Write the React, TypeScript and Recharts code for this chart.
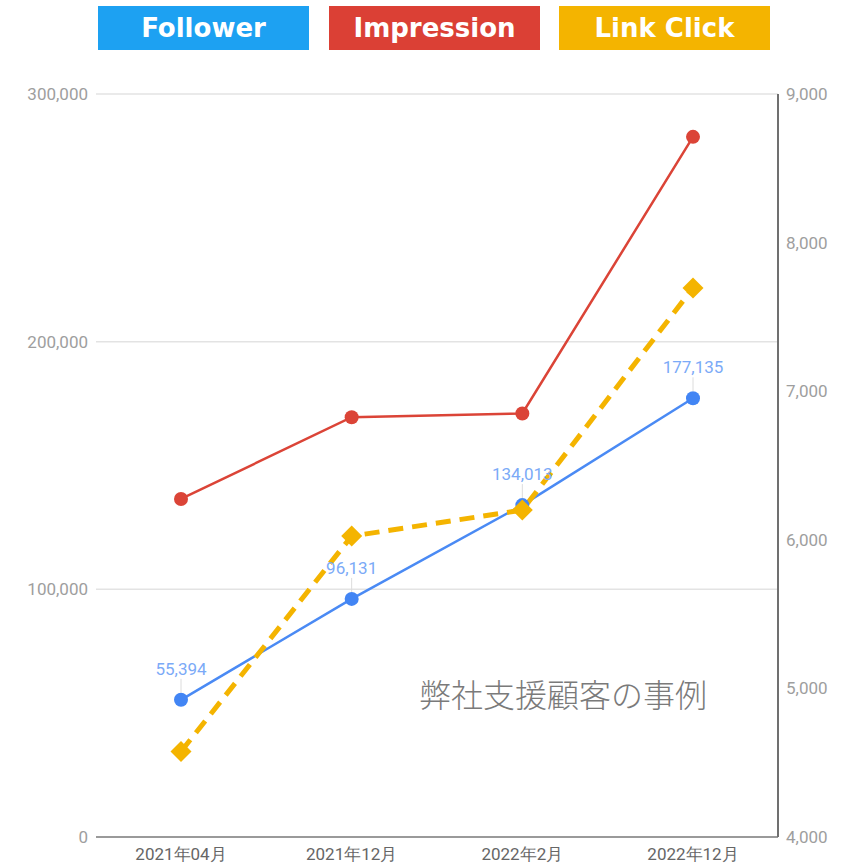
import React from 'react';
import { LineChart, Line, XAxis, YAxis, CartesianGrid, LabelList } from 'recharts';

const months = ['2021年04月', '2021年12月', '2022年2月', '2022年12月'];
const followers = [55394, 96131, 134013, 177135];
const impressions = [136500, 169500, 171000, 282700];
const linkClicks = [4575, 6025, 6200, 7695];

const leftTicks = [0, 100000, 200000, 300000];
const rightTicks = [4000, 5000, 6000, 7000, 8000, 9000];

const legendItems = [
  { name: 'Follower', color: '#1da1f2', left: 98 },
  { name: 'Impression', color: '#db4035', left: 329 },
  { name: 'Link Click', color: '#f4b400', left: 559 },
];

const chartData = months.map((m, i) => ({
  month: m,
  follower: followers[i],
  impression: impressions[i],
  link: linkClicks[i],
}));

const fmt = (v: number) => v.toLocaleString('en-US');

const Diamond = (props: any) => {
  const { cx, cy } = props;
  if (cx == null || cy == null) return null;
  const s = 10.5;
  return (
    <polygon
      points={`${cx},${cy - s} ${cx + s},${cy} ${cx},${cy + s} ${cx - s},${cy}`}
      fill="#f4b400"
    />
  );
};

const FollowerLabel = (props: any) => {
  const { x, y, value } = props;
  return (
    <g>
      <line x1={x} y1={y - 7} x2={x} y2={y - 21} stroke="#dcdcdc" strokeWidth={1} />
      <text x={x} y={y - 25} textAnchor="middle" fill="#7baaf7" fontSize={17} fontFamily="Roboto">
        {fmt(value)}
      </text>
    </g>
  );
};

export default function App() {
  return (
    <div style={{ position: 'absolute', left: 0, top: 0, width: 841, height: 866, background: '#fff' }}>
      <LineChart
        width={841}
        height={866}
        data={chartData}
        margin={{ top: 94, right: 0, bottom: 0, left: 0 }}
      >
        <CartesianGrid yAxisId="left" vertical={false} stroke="#e3e3e3" strokeWidth={1.5} />
        <XAxis
          dataKey="month"
          height={29}
          padding={{ left: 85, right: 85 }}
          tickLine={false}
          tickMargin={5}
          axisLine={{ stroke: '#9a9a9a', strokeWidth: 2 }}
          tick={{ fill: '#666', fontSize: 17, fontFamily: 'Roboto' }}
        />
        <YAxis
          yAxisId="left"
          width={96}
          domain={[0, 300000]}
          ticks={leftTicks}
          tickFormatter={fmt}
          axisLine={false}
          tickLine={false}
          tickSize={6}
          tick={{ fill: '#9e9e9e', fontSize: 17, fontFamily: 'Roboto' }}
        />
        <YAxis
          yAxisId="right"
          orientation="right"
          width={63}
          domain={[4000, 9000]}
          ticks={rightTicks}
          tickFormatter={fmt}
          tickLine={false}
          tickSize={6}
          axisLine={{ stroke: '#707070', strokeWidth: 2 }}
          tick={{ fill: '#9e9e9e', fontSize: 17, fontFamily: 'Roboto' }}
        />
        <Line
          yAxisId="left"
          dataKey="impression"
          stroke="#db4437"
          strokeWidth={2.5}
          dot={{ r: 7, fill: '#db4437', stroke: '#db4437', strokeWidth: 0 }}
          activeDot={false}
          isAnimationActive={false}
        />
        <Line
          yAxisId="left"
          dataKey="follower"
          stroke="#4a8af4"
          strokeWidth={2.5}
          dot={{ r: 7, fill: '#4285f4', stroke: '#4285f4', strokeWidth: 0 }}
          activeDot={false}
          isAnimationActive={false}
        >
          <LabelList dataKey="follower" content={FollowerLabel} />
        </Line>
        <Line
          yAxisId="right"
          dataKey="link"
          stroke="#f4b400"
          strokeWidth={5}
          strokeDasharray="15 9"
          dot={<Diamond />}
          activeDot={false}
          isAnimationActive={false}
        />
      </LineChart>
      {legendItems.map((it) => (
        <div
          key={it.name}
          style={{
            position: 'absolute',
            left: it.left,
            top: 6,
            width: 211,
            height: 44,
            background: it.color,
            color: '#fff',
            fontFamily: 'DejaVu Sans',
            fontWeight: 'bold',
            fontSize: 26,
            lineHeight: '44px',
            textAlign: 'center',
          }}
        >
          {it.name}
        </div>
      ))}
      <div
        style={{
          position: 'absolute',
          left: 419,
          top: 673,
          fontFamily: '"Noto Sans CJK JP"',
          fontSize: 32,
          lineHeight: '40px',
          color: '#7a7a7a',
          fontWeight: 300,
          whiteSpace: 'nowrap',
        }}
      >
        弊社支援顧客の事例
      </div>
    </div>
  );
}
